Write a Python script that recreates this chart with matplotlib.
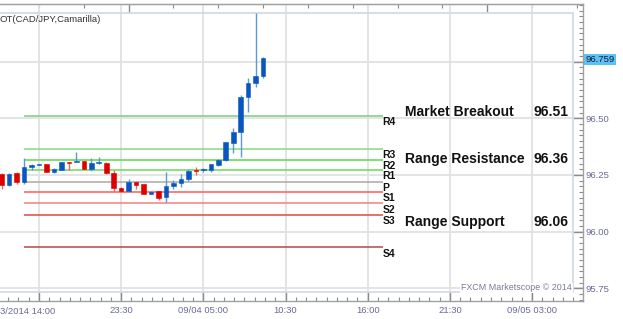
import matplotlib
matplotlib.use("Agg")
import matplotlib.pyplot as plt
from matplotlib.ticker import AutoMinorLocator, FixedLocator
from matplotlib.patches import Rectangle

plt.rcParams["font.family"] = ["Liberation Sans", "DejaVu Sans"]

# CAD/JPY 30 minute candles, bar 0 = first visible candle
opens = [96.254, 96.206, 96.258, 96.220, 96.284, 96.293, 96.297, 96.264, 96.272,
         96.306, 96.306, 96.310, 96.276, 96.301, 96.304, 96.260, 96.194, 96.181,
         96.220, 96.210, 96.166, 96.179, 96.152, 96.203, 96.213, 96.232, 96.270,
         96.270, 96.272, 96.294, 96.316, 96.390, 96.438, 96.593, 96.657, 96.688]
highs = [96.260, 96.258, 96.262, 96.326, 96.298, 96.300, 96.299, 96.280, 96.308,
         96.307, 96.353, 96.312, 96.324, 96.328, 96.308, 96.272, 96.196, 96.231,
         96.222, 96.212, 96.178, 96.181, 96.264, 96.228, 96.254, 96.276, 96.286,
         96.280, 96.300, 96.320, 96.396, 96.459, 96.603, 96.676, 96.964, 96.772]
lows = [96.190, 96.200, 96.210, 96.210, 96.270, 96.292, 96.262, 96.258, 96.270,
        96.272, 96.305, 96.274, 96.269, 96.296, 96.255, 96.174, 96.174, 96.174,
        96.190, 96.164, 96.164, 96.140, 96.129, 96.190, 96.195, 96.222, 96.250,
        96.262, 96.262, 96.290, 96.312, 96.346, 96.331, 96.529, 96.639, 96.679]
closes = [96.206, 96.254, 96.218, 96.284, 96.294, 96.298, 96.264, 96.276, 96.306,
          96.303, 96.312, 96.276, 96.304, 96.306, 96.257, 96.194, 96.181, 96.220,
          96.206, 96.166, 96.176, 96.147, 96.203, 96.216, 96.234, 96.268, 96.268,
          96.274, 96.298, 96.316, 96.394, 96.438, 96.593, 96.657, 96.688, 96.767]

# Camarilla pivot levels
level_names = ["R4", "R3", "R2", "R1", "P", "S1", "S2", "S3", "S4"]
level_values = [96.51, 96.365, 96.317, 96.27, 96.22, 96.174, 96.124, 96.075, 95.93]
level_colors = ["#7ccc7c", "#80dc80", "#55dd44", "#66dd55", "#aaaaaa",
                "#ff5a5a", "#f08080", "#e04848", "#b04a4a"]

time_labels = ["3/2014 14:00", "23:30", "09/04 05:00", "10:30", "16:00", "21:30", "09/05 03:00"]
price_ticks = [95.75, 96.00, 96.25, 96.50, 96.75]
price_labels = ["95.75", "96.00", "96.25", "96.50", ""]
last_price = 96.759

note_names = ["Market Breakout", "Range Resistance", "Range Support"]
note_values = ["96.51", "96.36", "96.06"]

fig = plt.figure(figsize=(6.23, 3.19), dpi=100)
ax = fig.add_axes([0, 18.3 / 319, 583 / 623, 296.7 / 319])

axis_grey = "#8c8c8c"
label_col = "#6a6a9a"

# candles
for i in range(len(opens)):
    o, h, l, c = opens[i], highs[i], lows[i], closes[i]
    up = c >= o
    body_col = "#0a56c0" if up else "#dd0000"
    wick_col = "#5b9ad8" if up else "#f06464"
    ax.vlines(i, l, h, color=wick_col, lw=1.0, zorder=3)
    ax.bar(i, max(abs(c - o), 0.0025), bottom=min(o, c), width=0.62,
           color=body_col, edgecolor=body_col, lw=0.4, zorder=4)

# pivot levels
ax.hlines(level_values, 3, 51, colors=level_colors, lw=1.1, zorder=2)
for name, v in zip(level_names, level_values):
    ax.annotate(name, xy=(51, v), xytext=(0, -0.8), textcoords="offset points",
                ha="left", va="top", fontsize=7.5, fontweight="bold", color="#111111")

# notes on the right
note_y = [96.528, 96.32, 96.043]
for name, val, y in zip(note_names, note_values, note_y):
    ax.text(54.0, y, name, fontsize=10, fontweight="bold", va="center", ha="left", color="#111111")
    ax.text(75.9, y, val, fontsize=10, fontweight="bold", va="center", ha="right", color="#111111")

ax.set_xlim(-0.22, 77.82)
ax.set_ylim(95.695, 97.004)

# x axis
xticks = [5 + 11 * k for k in range(len(time_labels))]
ax.set_xticks(xticks)
ax.set_xticklabels([""] + time_labels[1:])
ax.xaxis.set_minor_locator(AutoMinorLocator(8))
ax.text(0.0, -0.035, time_labels[0], transform=ax.transAxes, ha="left", va="center",
        fontsize=6.8, color=label_col, clip_on=False)
ax.tick_params(axis="x", which="major", direction="in", length=6.3, width=1,
               color=axis_grey, labelsize=6.8, labelcolor=label_col, pad=4)
ax.tick_params(axis="x", which="minor", direction="in", length=2.6, width=0.8, color=axis_grey)

# y axis on the right
ax.yaxis.tick_right()
ax.set_yticks(price_ticks)
ax.set_yticklabels(price_labels)
ax.yaxis.set_minor_locator(AutoMinorLocator(10))
ax.tick_params(axis="y", which="major", direction="in", length=7, width=1,
               color=axis_grey, labelsize=6.8, labelcolor=label_col, pad=1.5)
ax.tick_params(axis="y", which="minor", direction="in", length=3, width=0.8, color=axis_grey)
ax.text(1.004, last_price, "96.759", transform=ax.get_yaxis_transform(), ha="left",
        va="center", fontsize=6.8, color="#1a1a4a", clip_on=False,
        bbox=dict(boxstyle="square,pad=0.12", fc="#5cc2f2", ec="none"))

# top ticks of the panel above
top = ax.secondary_xaxis("top")
top.set_xticks([17, 65])
top.set_xticklabels(["", ""])
top.xaxis.set_minor_locator(FixedLocator(list(range(5, 78, 6))))
top.tick_params(which="major", direction="in", length=6.5, width=1, color=axis_grey)
top.tick_params(which="minor", direction="in", length=3, width=0.8, color=axis_grey)
top.spines["top"].set_color("#a0a0a0")

ax.grid(True, which="major", color="#e2e2e2", lw=1.3)
ax.set_axisbelow(True)

ax.spines["left"].set_visible(False)
for side in ["top", "bottom", "right"]:
    ax.spines[side].set_color("#a0a0a0")
    ax.spines[side].set_linewidth(1.0)

# inner frame of the plot area
ax.add_patch(Rectangle((-0.01, 0.029), 0.993, 0.941, transform=ax.transAxes, fill=False,
                       ec="#d3dbe6", lw=1.3, zorder=1, clip_on=False))

ax.text(0.0, 0.949, "OT(CAD/JPY,Camarilla)", transform=ax.transAxes, ha="left",
        va="center", fontsize=6.8, color="#333333")
ax.text(0.981, 0.043, "FXCM Marketscope \u00a9 2014", transform=ax.transAxes, ha="right",
        va="center", fontsize=6.4, color="#7a7a9a",
        bbox=dict(boxstyle="square,pad=0.1", fc="white", ec="none"))

fig.savefig("out.png", dpi=100)
